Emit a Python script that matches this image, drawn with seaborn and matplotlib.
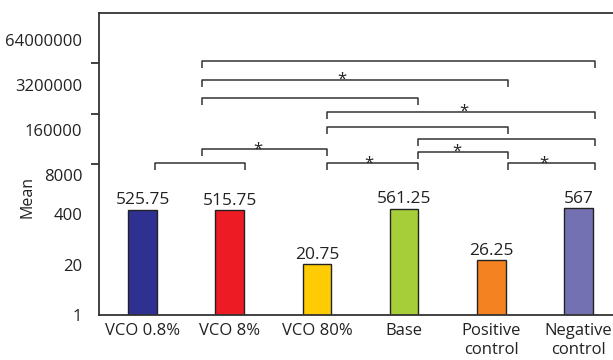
import matplotlib
matplotlib.use("Agg")
import matplotlib.pyplot as plt
import numpy as np
import pandas as pd
import seaborn as sns
from matplotlib.ticker import NullFormatter

# chart data
groups = ["VCO 0.8%", "VCO 8%", "VCO 80%", "Base", "Positive\ncontrol", "Negative\ncontrol"]
means = [525.75, 515.75, 20.75, 561.25, 26.25, 567]
bar_colors = ["#2e3192", "#ed1c24", "#ffcb05", "#a6ce39", "#f58220", "#7471b3"]
tick_labels = ["1", "20", "400", "8000", "160000", "3200000", "64000000"]

# significance brackets: (left x, right x, level in powers of 20, star x or None)
brackets = [
    (0.68, 5.19, 5.04, None),
    (0.68, 4.19, 4.67, 2.29),
    (0.68, 3.16, 4.32, None),
    (2.11, 5.19, 4.04, 3.69),
    (2.11, 4.19, 3.73, None),
    (3.16, 5.19, 3.49, None),
    (0.68, 2.11, 3.29, 1.32),
    (3.16, 4.19, 3.24, 3.60),
    (0.14, 1.18, 3.02, None),
    (2.11, 3.16, 3.02, 2.60),
    (4.19, 5.19, 3.02, 4.60),
]

sns.set_theme(style="white")
plt.rcParams['font.family'] = ['Open Sans', 'DejaVu Sans']
ink = "#333333"

df = pd.DataFrame({"group": groups, "mean": means})

fig = plt.figure(figsize=(6.13, 3.6), dpi=100)
ax = fig.add_axes([99 / 613, 45 / 360, 523 / 613, 302 / 360])

sns.barplot(data=df, x="group", y="mean", hue="group", palette=bar_colors,
            saturation=1, width=0.33, edgecolor="#222222", linewidth=1.0,
            legend=False, ax=ax)
ax.set_yscale("log", base=20)
ax.set_ylim(1, 20 ** 6)
ax.set_xlim(-0.5, 5.5)

for cont in ax.containers:
    ax.bar_label(cont, fmt="%g", padding=1, fontsize=12.5, color="#222222")

# tick marks at powers of 20, labels drawn slightly apart as in the source figure
label_levels = [0, 1, 2, 2.78, 3.68, 4.57, 5.47]
ax.set_yticks([20 ** v for v in label_levels], tick_labels)
ax.set_yticks([20 ** k for k in range(0, 6)], minor=True)
ax.yaxis.set_minor_formatter(NullFormatter())
ax.tick_params(axis="y", which="major", length=0, pad=12, labelsize=12, labelcolor="#222222")
ax.tick_params(axis="y", which="minor", left=True, length=6, width=1.3, color=ink)
ax.tick_params(axis="x", length=0, pad=6, labelsize=12, labelcolor="#222222")

ax.set_xlabel("")
ax.set_ylabel("Mean", fontsize=11.5, color="#222222")
ax.yaxis.set_label_coords(-0.122, 0.39)

for side in ["left", "top", "bottom", "right"]:
    ax.spines[side].set_color(ink)
    ax.spines[side].set_linewidth(1.3)

drop = 0.14
for x1, x2, lev, star in brackets:
    ys = [20 ** (lev - drop), 20 ** lev, 20 ** lev, 20 ** (lev - drop)]
    ax.plot([x1, x1, x2, x2], ys, color=ink, linewidth=1.1, solid_capstyle="butt")
    if star is not None:
        ax.annotate("*", (star, 20 ** lev), xytext=(0, -3), textcoords="offset points",
                    ha="center", va="baseline", fontsize=12, color="#222222")

fig.savefig("out.png", dpi=100)
